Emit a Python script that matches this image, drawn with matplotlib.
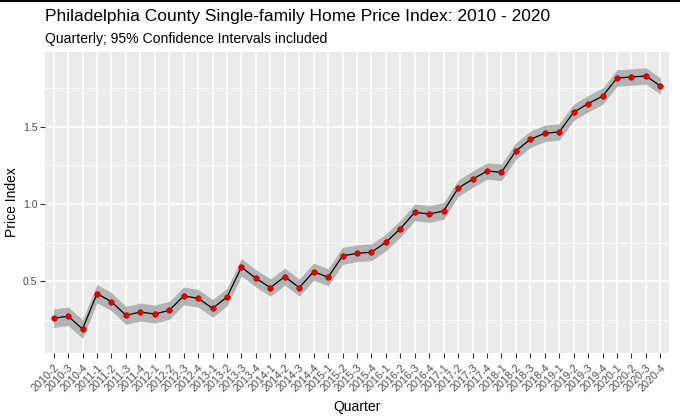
import matplotlib
matplotlib.use("Agg")
import matplotlib.pyplot as plt
from matplotlib.lines import Line2D
from matplotlib.ticker import MultipleLocator

plt.rcParams["font.family"] = ["Liberation Sans", "DejaVu Sans"]

# quarterly index values (2010-2 .. 2020-4)
quarters = [f"{y}-{q}" for y in range(2010, 2021) for q in range(1, 5)][1:]
index_vals = [0.261, 0.274, 0.191, 0.420, 0.368, 0.280, 0.301, 0.288, 0.312,
              0.405, 0.390, 0.325, 0.398, 0.591, 0.519, 0.459, 0.530, 0.459,
              0.562, 0.526, 0.664, 0.681, 0.688, 0.752, 0.840, 0.946, 0.935,
              0.955, 1.102, 1.160, 1.213, 1.205, 1.343, 1.418, 1.457, 1.466,
              1.593, 1.649, 1.697, 1.815, 1.821, 1.828, 1.763]
# 95% CI half-widths (estimated band thickness)
ci_half = [0.060, 0.060, 0.060, 0.060, 0.058, 0.058, 0.058, 0.058, 0.058,
           0.057, 0.057, 0.057, 0.057, 0.056, 0.056, 0.056, 0.055, 0.055,
           0.055, 0.055, 0.055, 0.054, 0.054, 0.054, 0.054, 0.054, 0.054,
           0.054, 0.053, 0.053, 0.053, 0.053, 0.053, 0.053, 0.053, 0.053,
           0.053, 0.053, 0.053, 0.053, 0.053, 0.053, 0.053]

lower = [v - h for v, h in zip(index_vals, ci_half)]
upper = [v + h for v, h in zip(index_vals, ci_half)]
xpos = list(range(len(quarters)))

W, H = 680, 420
fig = plt.figure(figsize=(W / 100, H / 100), dpi=100)
left, right, top, bottom = 45, 669, 52, 352.7
ax = fig.add_axes([left / W, 1 - bottom / H, (right - left) / W, (bottom - top) / H])

ax.set_facecolor("#ebebeb")
for s in ax.spines.values():
    s.set_visible(False)

ax.fill_between(xpos, lower, upper, color="#b3b3b3", lw=0, zorder=2)
ax.plot(xpos, index_vals, color="black", lw=0.9, zorder=3)
ax.scatter(xpos, index_vals, s=16, color="#e00000", edgecolors="#b00000",
           linewidths=0.4, zorder=4)

ax.set_xlim(-0.6, len(quarters) - 1 + 0.6)
ax.set_ylim(0.038, 1.983)
ax.set_xticks(xpos)
ax.set_xticklabels(quarters, rotation=45, ha="right", rotation_mode="anchor",
                   fontsize=7.8, color="#4d4d4d")
ax.yaxis.set_major_locator(MultipleLocator(0.5))
ax.yaxis.set_minor_locator(MultipleLocator(0.25))
ax.set_yticks([0.5, 1.0, 1.5])
ax.set_yticklabels(["0.5", "1.0", "1.5"], fontsize=7.6, color="#4d4d4d")
ax.tick_params(axis="both", which="major", length=3.5, width=0.8, color="#333333")
ax.tick_params(axis="x", which="major", pad=3.5)
ax.tick_params(axis="y", which="major", pad=2)
ax.tick_params(axis="y", which="minor", length=0)

ax.grid(True, which="major", color="white", lw=1.1, zorder=0)
ax.grid(True, which="minor", axis="y", color="white", lw=0.55, zorder=0)
ax.set_axisbelow(True)

ax.set_xlabel("Quarter", fontsize=10, labelpad=5)
ax.set_ylabel("Price Index", fontsize=10, labelpad=3)

fig.text(left / W, 1 - 16 / H, "Philadelphia County Single-family Home Price Index: 2010 - 2020",
         fontsize=12.5, va="center", ha="left")
fig.text(left / W, 1 - 39 / H, "Quarterly; 95% Confidence Intervals included",
         fontsize=10.1, va="center", ha="left")

# thin black rule along the top edge
fig.add_artist(Line2D([0, 1], [1 - 0.8 / H, 1 - 0.8 / H], color="black", lw=1.5,
                      transform=fig.transFigure))

fig.savefig("out.png", dpi=100)
